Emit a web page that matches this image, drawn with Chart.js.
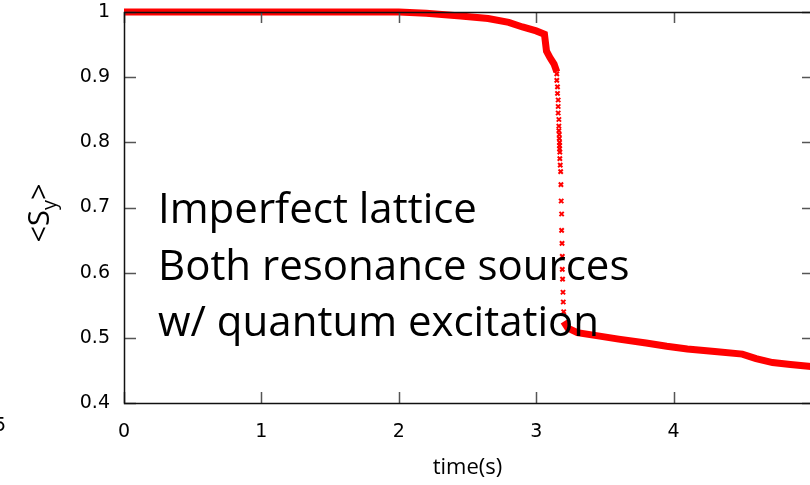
<!DOCTYPE html>
<html>
<head>
<meta charset="utf-8">
<script src="https://cdn.jsdelivr.net/npm/chart.js@4.4.1/dist/chart.umd.min.js"></script>
<style>
  html, body { margin: 0; padding: 0; background: #fff; overflow: hidden; }
  #wrap { width: 810px; height: 485px; overflow: hidden; }
</style>
</head>
<body>
<div id="wrap"><canvas id="myChart" width="830" height="485"></canvas></div>
<script>
// values
var tiempoAntes = [0, 0.5, 1, 1.5, 2, 2.2, 2.45, 2.65, 2.8, 2.9, 3.0, 3.06, 3.075, 3.1, 3.13, 3.15];
var syAntes     = [1.0, 1.0, 1.0, 1.0, 1.0, 0.998, 0.994, 0.99, 0.984, 0.977, 0.971, 0.966, 0.94, 0.93, 0.92, 0.908];

var tiempoCaida = [3.15, 3.15, 3.155, 3.155, 3.16, 3.16, 3.16, 3.165, 3.165, 3.165, 3.168, 3.168, 3.17, 3.17, 3.17,
                   3.172, 3.172, 3.175, 3.178, 3.18, 3.182, 3.185, 3.185, 3.188, 3.19, 3.19, 3.192, 3.195, 3.197, 3.2];
var syCaida     = [0.905, 0.895, 0.885, 0.875, 0.865, 0.855, 0.845, 0.835, 0.825, 0.818, 0.812, 0.806, 0.8, 0.795, 0.79,
                   0.785, 0.775, 0.765, 0.755, 0.735, 0.71, 0.69, 0.665, 0.645, 0.625, 0.605, 0.59, 0.57, 0.555, 0.54];

var tiempoDespues = [3.2, 3.23, 3.3, 3.45, 3.6, 3.8, 3.95, 4.1, 4.3, 4.5, 4.6, 4.72, 4.85, 5.0];
var syDespues     = [0.525, 0.515, 0.508, 0.503, 0.498, 0.492, 0.487, 0.483, 0.479, 0.475, 0.468, 0.462, 0.459, 0.456];

var xTicks = [0, 1, 2, 3, 4, 5];
var xEtiquetas = ['0', '1', '2', '3', '4', ''];   // the 5 is cut off in the picture
var yTicks = [0.4, 0.5, 0.6, 0.7, 0.8, 0.9, 1];

var textoNota = ['Imperfect lattice', 'Both resonance sources', 'w/ quantum excitation'];

function puntos(xs, ys) {
  var p = [];
  for (var i = 0; i < xs.length; i++) {
    p.push({x: xs[i], y: ys[i]});
  }
  return p;
}

var lineaDatos = puntos(tiempoAntes, syAntes).concat([{x: 3.175, y: null}]).concat(puntos(tiempoDespues, syDespues));

// box with inward ticks like gnuplot, plus the text
var marco = {
  id: 'marco',
  afterDatasetsDraw: function (chart) {
    var ctx = chart.ctx;
    var xs = chart.scales.x, ys = chart.scales.y;
    var a = chart.chartArea;
    ctx.save();
    ctx.strokeStyle = '#555';
    ctx.lineWidth = 1.5;
    ctx.beginPath();
    xTicks.forEach(function (v) {
      var px = Math.round(xs.getPixelForValue(v)) + 0.5;
      ctx.moveTo(px, a.bottom); ctx.lineTo(px, a.bottom - 11);
      ctx.moveTo(px, a.top); ctx.lineTo(px, a.top + 11);
    });
    yTicks.forEach(function (v) {
      var py = Math.round(ys.getPixelForValue(v)) + 0.5;
      ctx.moveTo(a.left, py); ctx.lineTo(a.left + 12, py);
      ctx.moveTo(a.right, py); ctx.lineTo(a.right - 9, py);
    });
    ctx.stroke();
    ctx.strokeStyle = '#111';
    ctx.lineWidth = 1.5;
    ctx.strokeRect(Math.round(a.left) + 0.5, Math.round(a.top) + 0.5, a.right - a.left, a.bottom - a.top);

    // annotation
    ctx.fillStyle = '#000';
    ctx.font = '42px "Open Sans"';
    ctx.textBaseline = 'alphabetic';
    ctx.textAlign = 'left';
    for (var i = 0; i < textoNota.length; i++) {
      ctx.fillText(textoNota[i], 158, 223 + i * 56.5);
    }

    // y axis title <S_y>
    ctx.translate(49, 213);
    ctx.rotate(-Math.PI / 2);
    ctx.font = '29px "Open Sans"';
    var w1 = ctx.measureText('<S').width;
    ctx.font = '20px "Open Sans"';
    var w2 = ctx.measureText('y').width;
    ctx.font = '29px "Open Sans"';
    var w3 = ctx.measureText('>').width;
    var x0 = -(w1 + w2 + w3) / 2;
    ctx.fillText('<S', x0, 0);
    ctx.font = '20px "Open Sans"';
    ctx.fillText('y', x0 + w1, 7);
    ctx.font = '29px "Open Sans"';
    ctx.fillText('>', x0 + w1 + w2, 0);
    ctx.restore();

    // leftover label from the neighbouring panel
    ctx.save();
    ctx.fillStyle = '#000';
    ctx.font = '19px "DejaVu Sans"';
    ctx.textBaseline = 'middle';
    ctx.fillText('5', -6, 426);
    ctx.restore();
  }
};

var grafica = new Chart(document.getElementById('myChart').getContext('2d'), {
  type: 'scatter',
  data: {
    datasets: [{
      data: lineaDatos,
      showLine: true,
      spanGaps: false,
      borderColor: '#ff0000',
      backgroundColor: '#ff0000',
      borderWidth: 7,
      pointRadius: 0,
      pointHoverRadius: 0,
      tension: 0,
      clip: 10
    }, {
      data: puntos(tiempoCaida, syCaida),
      showLine: false,
      pointStyle: 'crossRot',
      pointRadius: 3,
      pointHoverRadius: 3,
      borderWidth: 2,
      borderColor: '#ff0000',
      backgroundColor: '#ff0000',
      clip: 10
    }]
  },
  options: {
    responsive: false,
    animation: false,
    layout: { autoPadding: false, padding: { top: 12, right: 19, left: 0, bottom: 0 } },
    plugins: { legend: { display: false }, tooltip: { enabled: false } },
    scales: {
      x: {
        type: 'linear', min: 0, max: 5,
        grid: { display: false, drawTicks: false },
        border: { display: false },
        afterBuildTicks: function (s) { s.ticks = xTicks.map(function (v) { return {value: v}; }); },
        afterFit: function (s) { s.height = 82; s.paddingLeft = 0; s.paddingRight = 0; },
        ticks: { color: '#000', padding: 18, font: { family: 'DejaVu Sans', size: 19 }, maxRotation: 0,
                 callback: function (v, i) { return xEtiquetas[i]; } },
        title: { display: true, text: 'time(s)', color: '#000', font: { family: 'Open Sans', size: 22 }, padding: { top: 0, bottom: 4 } }
      },
      y: {
        type: 'linear', min: 0.4, max: 1,
        grid: { display: false, drawTicks: false },
        border: { display: false },
        afterBuildTicks: function (s) { s.ticks = yTicks.map(function (v) { return {value: v}; }); },
        afterFit: function (s) { s.width = 124; s.paddingTop = 0; s.paddingBottom = 0; },
        ticks: { color: '#000', padding: 14, font: { family: 'DejaVu Sans', size: 19 },
                 callback: function (v) { return String(v); } }
      }
    }
  },
  plugins: [marco]
});
</script>
</body>
</html>
